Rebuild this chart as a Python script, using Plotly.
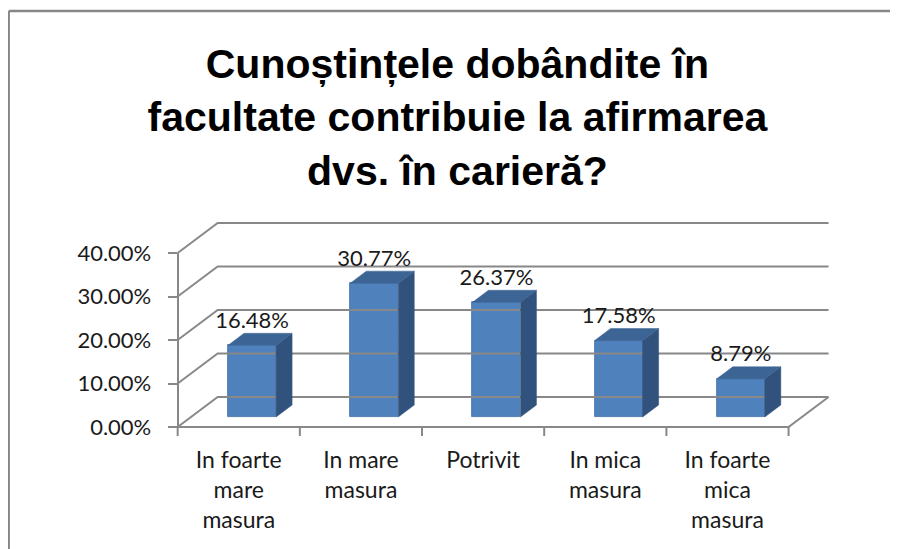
import plotly.graph_objects as go

# ---------------- data ----------------
categories = ["In foarte<br>mare<br>masura", "In mare<br>masura", "Potrivit",
              "In mica<br>masura", "In foarte<br>mica<br>masura"]
values = [0.1648, 0.3077, 0.2637, 0.1758, 0.0879]
y_ticks = [0.0, 0.1, 0.2, 0.3, 0.4]
title_text = "Cunoștințele dobândite în<br>facultate contribuie la afirmarea<br>dvs. în carieră?"

# ---------------- geometry / style ----------------
OFF = 8                     # page body margin of the browser
FIG_W, FIG_H = 898 - OFF, 549 - OFF
PX_X = 122.2                # pixels per category
PX_Y = 435.0                # pixels per unit (1.0 = 100%)
ORIGIN_PX = (178 - OFF, 427 - OFF)  # pixel of (x=-0.5, y=0) inside the figure
X_RANGE = [-0.53, 4.88]
PLOT_TOP_PX, PLOT_BOT_PX = 220 - OFF, 440 - OFF

l = ORIGIN_PX[0] + (X_RANGE[0] + 0.5) * PX_X
plot_w = (X_RANGE[1] - X_RANGE[0]) * PX_X
r = FIG_W - l - plot_w
t = PLOT_TOP_PX
b = FIG_H - PLOT_BOT_PX
plot_h = PLOT_BOT_PX - PLOT_TOP_PX
Y_RANGE = [-(PLOT_BOT_PX - ORIGIN_PX[1]) / PX_Y, (ORIGIN_PX[1] - PLOT_TOP_PX) / PX_Y]

DX = 40 / PX_X        # depth offset of the back wall (data units)
DY = 30 / PX_Y
F0 = 1 / 3            # depth position of bar fronts
BD = 0.4              # bar depth (fraction of total depth)
BW = 48 / PX_X        # bar width

GRID = "#888888"
FRONT = "#4F81BD"
TOP = "#3C6595"
SIDE = "#30527C"
FONT = "Lato"

n = len(categories)
xc = list(range(n))

fig = go.Figure()

# back wall gridlines + left wall diagonals
gx, gy = [], []
for tv in y_ticks:
    gx += [-0.5, -0.5 + DX, n - 0.5 + DX, None]
    gy += [tv, tv + DY, tv + DY, None]
# floor: front edge and right edge
gx += [-0.5, n - 0.5, n - 0.5 + DX, None]
gy += [0, 0, DY, None]
# category tick marks
for k in range(n + 1):
    gx += [k - 0.5, k - 0.5, None]
    gy += [0, -9 / PX_Y, None]
fig.add_trace(go.Scatter(x=gx, y=gy, mode="lines", line=dict(color=GRID, width=2),
                         hoverinfo="skip", showlegend=False))

# bar geometry
base = F0 * DY
ddx, ddy = BD * DX, BD * DY
sx, sy, tx, ty = [], [], [], []
for i, v in zip(xc, values):
    x0 = i + F0 * DX - BW / 2
    x1 = x0 + BW
    top = v + base
    sx += [x1, x1 + ddx, x1 + ddx, x1, x1, None]
    sy += [base, base + ddy, top + ddy, top, base, None]
    tx += [x0, x1, x1 + ddx, x0 + ddx, x0, None]
    ty += [top, top, top + ddy, top + ddy, top, None]

fig.add_trace(go.Scatter(x=sx, y=sy, mode="lines", fill="toself", fillcolor=SIDE,
                         line=dict(color=SIDE, width=0.5), hoverinfo="skip", showlegend=False))
fig.add_trace(go.Scatter(x=tx, y=ty, mode="lines", fill="toself", fillcolor=TOP,
                         line=dict(color=TOP, width=0.5), hoverinfo="skip", showlegend=False))

# data labels
fig.add_trace(go.Scatter(
    x=[i + F0 * DX for i in xc],
    y=[v + base + ddy for v in values],
    mode="text", text=[f"{v*100:.2f}%" for v in values], textposition="top center",
    textfont=dict(family=FONT, size=22, color="#1a1a1a"),
    hoverinfo="skip", showlegend=False, cliponaxis=False))

# front faces
fig.add_trace(go.Bar(
    x=[i + F0 * DX for i in xc], y=values, base=base, width=BW,
    marker=dict(color=FRONT, line=dict(color="#3F6EA6", width=0.8)),
    hoverinfo="skip", showlegend=False))

# dummy trace for the value axis
fig.add_trace(go.Scatter(x=[None], y=[None], yaxis="y2", showlegend=False, hoverinfo="skip"))

# frame border
def px2paper(px, py):
    return (px - l) / plot_w, (PLOT_BOT_PX - py) / plot_h

fx0, fy0 = px2paper(8 - OFF + 1, 11 - OFF)
fx1, fy1 = px2paper(FIG_W + 20, FIG_H + 20)
shapes = [
    dict(type="line", xref="paper", yref="paper", x0=fx0, y0=fy0, x1=fx0, y1=fy1,
         line=dict(color="#878787", width=2.5)),
    dict(type="line", xref="paper", yref="paper", x0=fx0, y0=fy0, x1=fx1, y1=fy0,
         line=dict(color="#878787", width=2.5)),
]

y2_domain = [(PLOT_BOT_PX - ORIGIN_PX[1]) / plot_h,
             (PLOT_BOT_PX - ORIGIN_PX[1] + y_ticks[-1] * PX_Y) / plot_h]

fig.update_layout(
    width=FIG_W, height=FIG_H,
    margin=dict(l=l, r=r, t=t, b=b, autoexpand=False),
    paper_bgcolor="white", plot_bgcolor="rgba(0,0,0,0)",
    bargap=0,
    title=dict(text=title_text, x=0.505, xanchor="center", y=1 - 70 / FIG_H, yanchor="top",
               font=dict(family="Liberation Sans, Arial", size=41, color="black", weight="bold")),
    xaxis=dict(range=X_RANGE, showgrid=False, zeroline=False, showline=False, ticks="",
               tickmode="array", tickvals=xc, ticktext=categories,
               tickfont=dict(family=FONT, size=23, color="#1a1a1a"), ticklabelstandoff=4,
               fixedrange=True),
    yaxis=dict(range=Y_RANGE, showgrid=False, zeroline=False, showline=False,
               showticklabels=False, ticks="", fixedrange=True),
    yaxis2=dict(range=[0, y_ticks[-1]], domain=y2_domain, anchor="free",
                position=(-0.5 - X_RANGE[0]) / (X_RANGE[1] - X_RANGE[0]),
                showgrid=False, zeroline=False, showline=True, linecolor=GRID, linewidth=2,
                ticks="outside", ticklen=9, tickwidth=2, tickcolor=GRID,
                tickmode="array", tickvals=y_ticks, tickformat=".2%",
                tickfont=dict(family=FONT, size=22, color="#1a1a1a"), ticklabelstandoff=12,
                fixedrange=True),
    shapes=shapes,
)

fig.write_html("out.html")
